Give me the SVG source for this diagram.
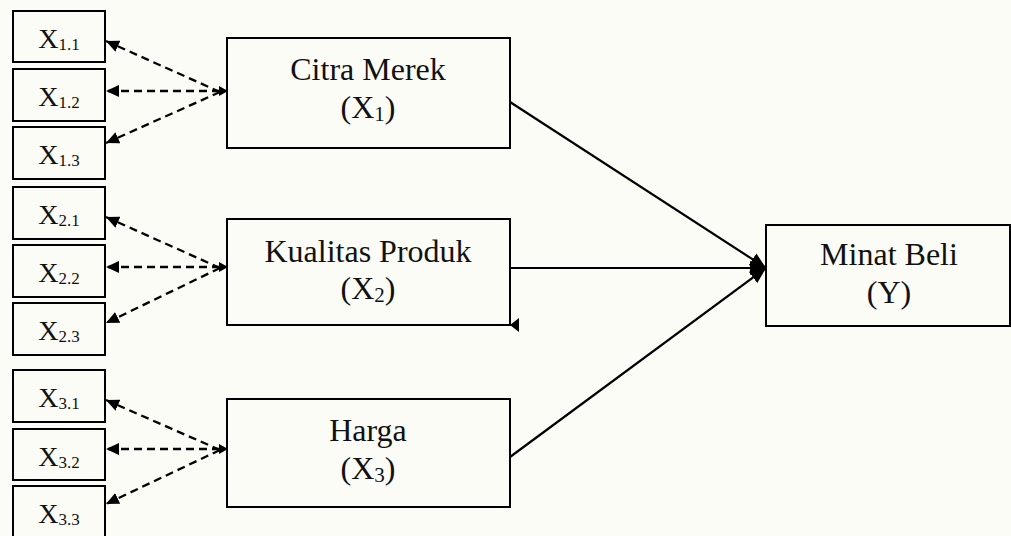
<svg xmlns="http://www.w3.org/2000/svg" width="1011" height="536" viewBox="0 0 1011 536">
<style>
.box{fill:none;stroke:#000;stroke-width:2}
.lbl{font-family:"Liberation Serif","Times New Roman",serif;font-size:28px;fill:#111;text-anchor:middle}
.big{font-family:"Liberation Serif","Times New Roman",serif;font-size:32px;fill:#111;text-anchor:middle}
.dash{stroke:#000;stroke-width:2.3;stroke-dasharray:8,5;fill:none}
.solid{stroke:#000;stroke-width:2.2;fill:none}
</style>
<defs>
<marker id="ah" markerUnits="userSpaceOnUse" markerWidth="15" markerHeight="13" refX="13" refY="6" orient="auto">
<path d="M0,0 L13,6 L0,12 z" fill="#000"/>
</marker>
<marker id="ah2" markerUnits="userSpaceOnUse" markerWidth="17" markerHeight="15" refX="16" refY="7" orient="auto">
<path d="M0,0 L16,7 L0,14 z" fill="#000"/>
</marker>
</defs>
<rect width="1011" height="536" fill="#fcfcf7"/>

<g id="connectors">
<line class="dash" x1="220" y1="92" x2="106" y2="41" marker-end="url(#ah)"/>
<line class="dash" x1="220" y1="91" x2="106" y2="91" marker-end="url(#ah)"/>
<line class="dash" x1="220" y1="92" x2="106" y2="143" marker-end="url(#ah)"/>
<polygon points="219,86 228,91 219,96" fill="#000"/>

<line class="dash" x1="220" y1="268" x2="106" y2="217" marker-end="url(#ah)"/>
<line class="dash" x1="220" y1="267" x2="106" y2="267" marker-end="url(#ah)"/>
<line class="dash" x1="220" y1="268" x2="106" y2="323" marker-end="url(#ah)"/>
<polygon points="219,262 228,267 219,272" fill="#000"/>

<line class="dash" x1="220" y1="450" x2="106" y2="400" marker-end="url(#ah)"/>
<line class="dash" x1="220" y1="449" x2="106" y2="449" marker-end="url(#ah)"/>
<line class="dash" x1="220" y1="450" x2="106" y2="504" marker-end="url(#ah)"/>
<polygon points="219,444 228,449 219,454" fill="#000"/>

<line class="solid" x1="510" y1="102" x2="766" y2="268" marker-end="url(#ah2)"/>
<line class="solid" x1="510" y1="268" x2="766" y2="268" marker-end="url(#ah2)"/>
<line class="solid" x1="510" y1="457" x2="766" y2="268" marker-end="url(#ah2)"/>
<polygon points="510,325 519,318 519,332" fill="#000"/>
</g>

<g id="x11"><rect class="box" x="13" y="11" width="92" height="51"/><text class="lbl" x="59" y="48">X<tspan font-size="17" dy="2">1.1</tspan></text></g>
<g id="x12"><rect class="box" x="13" y="69" width="92" height="52"/><text class="lbl" x="59" y="106">X<tspan font-size="17" dy="2">1.2</tspan></text></g>
<g id="x13"><rect class="box" x="13" y="127" width="92" height="52"/><text class="lbl" x="59" y="164">X<tspan font-size="17" dy="2">1.3</tspan></text></g>
<g id="x21"><rect class="box" x="13" y="187" width="92" height="52"/><text class="lbl" x="59" y="224">X<tspan font-size="17" dy="2">2.1</tspan></text></g>
<g id="x22"><rect class="box" x="13" y="245" width="92" height="52"/><text class="lbl" x="59" y="282">X<tspan font-size="17" dy="2">2.2</tspan></text></g>
<g id="x23"><rect class="box" x="13" y="303" width="92" height="52"/><text class="lbl" x="59" y="340">X<tspan font-size="17" dy="2">2.3</tspan></text></g>
<g id="x31"><rect class="box" x="13" y="370" width="92" height="52"/><text class="lbl" x="59" y="407">X<tspan font-size="17" dy="2">3.1</tspan></text></g>
<g id="x32"><rect class="box" x="13" y="429" width="92" height="51"/><text class="lbl" x="59" y="466">X<tspan font-size="17" dy="2">3.2</tspan></text></g>
<g id="x33"><rect class="box" x="13" y="486" width="92" height="52"/><text class="lbl" x="59" y="523">X<tspan font-size="17" dy="2">3.3</tspan></text></g>

<g id="citra"><rect class="box" x="227" y="38" width="283" height="110"/>
<text class="big" x="368" y="80">Citra Merek</text>
<text class="big" x="368" y="118">(X<tspan font-size="21" dy="3">1</tspan><tspan dy="-3">)</tspan></text></g>
<g id="kualitas"><rect class="box" x="227" y="219" width="283" height="106"/>
<text class="big" x="368" y="262">Kualitas Produk</text>
<text class="big" x="368" y="299">(X<tspan font-size="21" dy="3">2</tspan><tspan dy="-3">)</tspan></text></g>
<g id="harga"><rect class="box" x="227" y="399" width="283" height="108"/>
<text class="big" x="368" y="441">Harga</text>
<text class="big" x="368" y="479">(X<tspan font-size="21" dy="3">3</tspan><tspan dy="-3">)</tspan></text></g>
<g id="minat"><rect class="box" x="766" y="225" width="244" height="101"/>
<text class="big" x="889" y="265">Minat Beli</text>
<text class="big" x="889" y="303">(Y)</text></g>
</svg>
